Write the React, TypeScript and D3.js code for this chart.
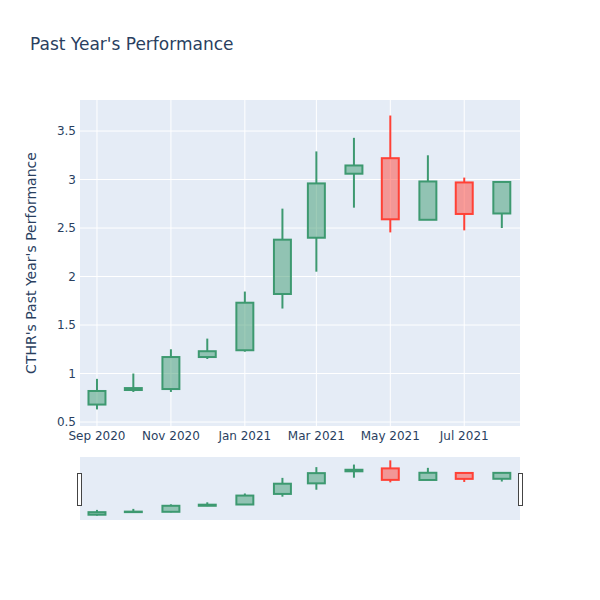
import * as d3 from 'd3';
import React from 'react';

const months = ['2020-09-01', '2020-10-01', '2020-11-01', '2020-12-01', '2021-01-01', '2021-02-01',
  '2021-03-01', '2021-04-01', '2021-05-01', '2021-06-01', '2021-07-01', '2021-08-01'];
const opens = [0.68, 0.83, 0.84, 1.17, 1.24, 1.82, 2.40, 3.06, 3.22, 2.585, 2.97, 2.65];
const highs = [0.945, 1.0, 1.25, 1.36, 1.845, 2.70, 3.29, 3.43, 3.66, 3.25, 3.02, 2.975];
const lows = [0.63, 0.81, 0.81, 1.15, 1.225, 1.67, 2.05, 2.71, 2.455, 2.585, 2.476, 2.50];
const closes = [0.82, 0.85, 1.17, 1.23, 1.73, 2.38, 2.96, 3.145, 2.59, 2.98, 2.645, 2.975];

const yTicks = [0.5, 1, 1.5, 2, 2.5, 3, 3.5];
const xTicks = ['2020-09-01', '2020-11-01', '2021-01-01', '2021-03-01', '2021-05-01', '2021-07-01'];

const parse = d3.timeParse('%Y-%m-%d');
const fmt = d3.timeFormat('%b %Y');
const font = '"DejaVu Sans", verdana, arial, sans-serif';
const textColor = '#2a3f5f';
const upColor = '#3D9970';
const downColor = '#FF4136';

const plot = { left: 80, right: 520, top: 100, bottom: 426 };
const slider = { top: 457, bottom: 520 };

const data = months.map((m, i) => ({
  date: parse(m) as Date,
  open: opens[i], high: highs[i], low: lows[i], close: closes[i],
}));

const x = d3.scaleTime()
  .domain([parse('2020-08-18') as Date, parse('2021-08-16') as Date])
  .range([plot.left, plot.right]);

const y = d3.scaleLinear()
  .domain([0.459, 3.82])
  .range([plot.bottom, plot.top]);

const ySlider = d3.scaleLinear()
  .domain([d3.min(lows) as number - 0.02, d3.max(highs) as number + 0.02])
  .range([516, 460]);

const halfDays = 7 * 24 * 3600 * 1000;

const Candles = ({ ys }: { ys: d3.ScaleLinear<number, number> }) => (
  <g>
    {data.map((d, i) => {
      const up = d.close >= d.open;
      const c = up ? upColor : downColor;
      const cx = x(d.date);
      const x0 = x(new Date(d.date.getTime() - halfDays));
      const x1 = x(new Date(d.date.getTime() + halfDays));
      const top = ys(Math.max(d.open, d.close));
      const bot = ys(Math.min(d.open, d.close));
      return (
        <g key={i}>
          <line x1={cx} x2={cx} y1={ys(d.high)} y2={top} stroke={c} strokeWidth={2} />
          <line x1={cx} x2={cx} y1={bot} y2={ys(d.low)} stroke={c} strokeWidth={2} />
          <rect x={x0} y={top} width={x1 - x0} height={Math.max(bot - top, 0.5)}
            fill={c} fillOpacity={0.5} stroke={c} strokeWidth={2} />
        </g>
      );
    })}
  </g>
);

const App = () => {
  return (
    <svg width={600} height={600} style={{ position: 'absolute', left: 0, top: 0, fontFamily: font }}>
      <rect width={600} height={600} fill="#fff" />
      <text x={30} y={50} fontSize={17} fill={textColor}>Past Year's Performance</text>

      {/* main plot */}
      <rect x={plot.left} y={plot.top} width={plot.right - plot.left} height={plot.bottom - plot.top} fill="#e5ecf6" />
      {yTicks.map(t => (
        <g key={t}>
          <line x1={plot.left} x2={plot.right} y1={y(t)} y2={y(t)} stroke="#fff" strokeWidth={1} />
          <text x={plot.left - 4} y={y(t)} dy="0.35em" textAnchor="end" fontSize={12} fill={textColor}>{t}</text>
        </g>
      ))}
      {xTicks.map(t => {
        const d = parse(t) as Date;
        return (
          <g key={t}>
            <line x1={x(d)} x2={x(d)} y1={plot.top} y2={plot.bottom} stroke="#fff" strokeWidth={1} />
            <text x={x(d)} y={plot.bottom + 14} textAnchor="middle" fontSize={12} fill={textColor}>{fmt(d)}</text>
          </g>
        );
      })}
      <Candles ys={y} />
      <text transform={`translate(36,${(plot.top + plot.bottom) / 2}) rotate(-90)`} textAnchor="middle"
        fontSize={14} fill={textColor}>CTHR's Past Year's Performance</text>

      {/* range slider */}
      <rect x={plot.left} y={slider.top} width={plot.right - plot.left} height={slider.bottom - slider.top} fill="#e5ecf6" />
      <Candles ys={ySlider} />
      <rect x={77.5} y={473.5} width={4} height={32} fill="#fff" stroke="#444" strokeWidth={1} />
      <rect x={518.5} y={473.5} width={4} height={32} fill="#fff" stroke="#444" strokeWidth={1} />
    </svg>
  );
};

export default App;
